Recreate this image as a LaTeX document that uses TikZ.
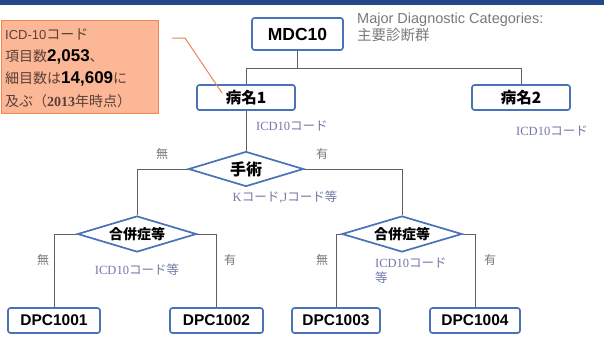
\documentclass[tikz,border=0pt]{standalone}
\usepackage{fontspec}
\setmainfont{Liberation Sans}
\newfontfamily\jp{Noto Sans CJK JP}
\newfontfamily\serifl{Liberation Serif}
\usetikzlibrary{shapes.geometric}
\definecolor{topblue}{HTML}{24468A}
\definecolor{boxblue}{HTML}{4A72B8}
\definecolor{linegray}{HTML}{606060}
\definecolor{lblblue}{HTML}{7278A8}
\definecolor{lblgray}{HTML}{7A7A7A}
\definecolor{orfill}{HTML}{FBB796}
\definecolor{ordraw}{HTML}{EE8552}
\definecolor{ortext}{HTML}{5A4038}
\tikzset{
  boxnode/.style={draw=boxblue, line width=1.7pt, fill=white, rounded corners=2.5pt,
    inner sep=0pt, font=\bfseries\fontsize{15.5}{16}\selectfont},
  dia/.style={diamond, draw=boxblue, line width=1.7pt, fill=white, inner sep=0pt,
    aspect=3.3, font=\jp\bfseries\fontsize{14}{14}\selectfont},
  conn/.style={draw=linegray, line width=0.7pt},
  lbl/.style={text=lblblue, inner sep=0pt, font=\serifl\fontsize{12.5}{15}\selectfont},
  yn/.style={text=lblgray, inner sep=0pt, font=\jp\fontsize{12}{13}\selectfont},
  infotxt/.style={anchor=west, inner sep=0pt, text=ortext, font=\jp\fontsize{14}{15}\selectfont},
}
\newcommand{\bnum}[1]{{\rmfamily\bfseries\color{black}\fontsize{17}{17}\selectfont #1}}
\begin{document}
\begin{tikzpicture}[x=1pt,y=-1pt]
\useasboundingbox (0,0) rectangle (604,349);
\fill[white] (0,0) rectangle (604,349);
\fill[topblue] (0,0) rectangle (604,5);

% orange info box
\node[draw=ordraw, fill=orfill, line width=1pt, minimum width=157pt, minimum height=93pt,
  inner sep=0pt, anchor=north west] (info) at (0.5,20) {};
\node[infotxt] (i1) at (5,34) {{\rmfamily\fontsize{13}{14}\selectfont ICD-10}コード};
\node[infotxt] (i2) at (5,57) {項目数\bnum{2,053}、};
\node[infotxt] (i3) at (5,79) {細目数は\bnum{14,609}に};
\node[infotxt] (i4) at (5,101) {及ぶ（{\serifl\bfseries 2013}年時点）};

% top
\node[boxnode, minimum width=91pt, minimum height=32pt, font=\bfseries\fontsize{17.5}{18}\selectfont] (mdc) at (297.5,34) {MDC10};
\node[anchor=north west, inner sep=0pt, text=lblgray, align=left, font=\fontsize{14.5}{17}\selectfont] (mdctxt) at (357,13) {Major Diagnostic Categories:\\{\jp 主要診断群}};

\node[boxnode, minimum width=98pt, minimum height=25pt, font=\jp\bfseries\fontsize{15.5}{16}\selectfont] (b1) at (246,97.5) {病名1};
\node[boxnode, minimum width=98pt, minimum height=25pt, font=\jp\bfseries\fontsize{15.5}{16}\selectfont] (b2) at (521,97.5) {病名2};

\coordinate (j1) at (297.5,68);
\draw[conn] (mdc.south) -- (j1);
\draw[conn] (j1) -| (b1.north);
\draw[conn] (j1) -| (b2.north);

\node[lbl, anchor=west] (l1) at (256,126) {ICD10{\jp コード}};
\node[lbl] (l2) at (552,131) {ICD10{\jp コード}};

% surgery diamond
\node[dia, minimum width=115pt, minimum height=35pt, font=\jp\bfseries\fontsize{16}{16}\selectfont] (op) at (246,169) {手術};
\draw[conn] (b1.south) -- (op.north);
\node[lbl] (l3) at (285,197) {K{\jp コード}{,}J{\jp コード等}};
\node[yn] (n1) at (162,154) {無};
\node[yn] (y1) at (322,154) {有};

% complication diamonds
\node[dia, minimum width=119pt, minimum height=36pt] (c1) at (137,234) {合併症等};
\node[dia, minimum width=120pt, minimum height=36pt] (c2) at (402,234) {合併症等};
\draw[conn] (op.west) -| (c1.north);
\draw[conn] (op.east) -| (c2.north);

\node[boxnode, minimum width=92pt, minimum height=25pt] (d1) at (54,320.5) {DPC1001};
\node[boxnode, minimum width=93pt, minimum height=25pt] (d2) at (216.5,320.5) {DPC1002};
\node[boxnode, minimum width=88pt, minimum height=25pt] (d3) at (336,320.5) {DPC1003};
\node[boxnode, minimum width=90pt, minimum height=25pt] (d4) at (475,320.5) {DPC1004};

\draw[conn] (c1.west) -| (d1.north);
\draw[conn] (c1.east) -| (d2.north);
\draw[conn] (c2.west) -| (d3.north);
\draw[conn] (c2.east) -| (d4.north);

\node[yn] (n2) at (43,260) {無};
\node[yn] (y2) at (230,260) {有};
\node[lbl] (l4) at (137,270) {ICD10{\jp コード等}};
\node[yn] (n3) at (322,260) {無};
\node[yn] (y3) at (490,260) {有};
\node[lbl, anchor=north west, align=left] (l5) at (375,258) {ICD10{\jp コード}\\{\jp 等}};

% leader line
\coordinate (ls) at (172,38);
\coordinate (lm) at (185,38);
\coordinate (le) at (222,93);
\draw[draw=ordraw, line width=1pt] (ls) -- (lm) -- (le);
\end{tikzpicture}
\end{document}
